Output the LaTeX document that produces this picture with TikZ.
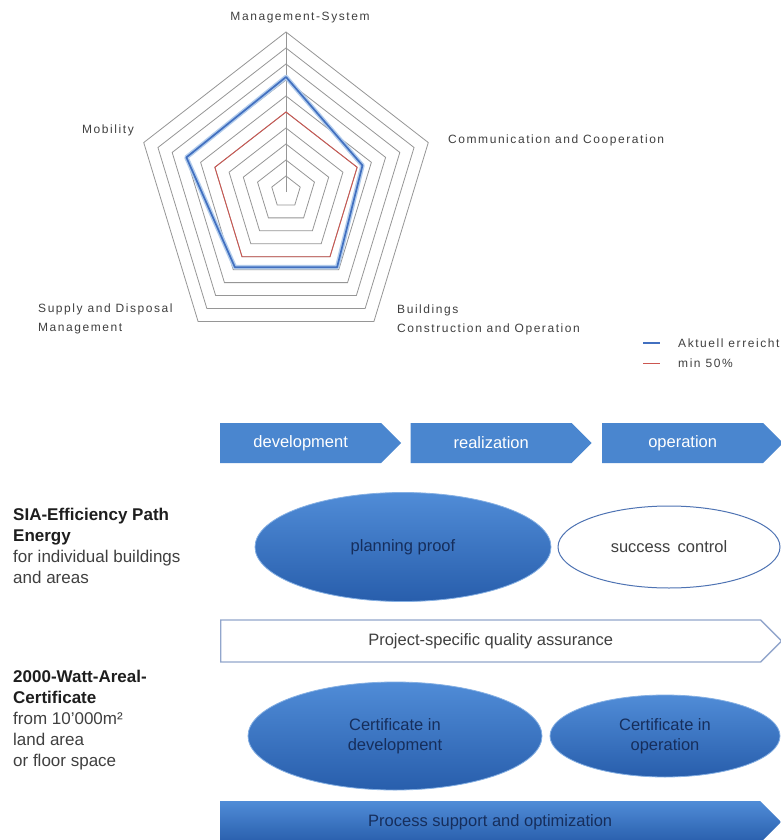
\documentclass[tikz,border=0pt]{standalone}
\usepackage{fontspec}
\setmainfont{Liberation Sans}
\newfontfamily\chartfont[LetterSpace=13]{Liberation Sans}
\usetikzlibrary{positioning,shapes.symbols,shapes.geometric}
\definecolor{phaseblue}{RGB}{74,134,207}
\definecolor{ovaltop}{RGB}{80,140,215}
\definecolor{ovalbottom}{RGB}{40,94,172}
\definecolor{ovaltext}{RGB}{22,46,92}
\definecolor{framegray}{RGB}{146,166,204}
\definecolor{gridgray}{RGB}{150,150,150}
\definecolor{actualblue}{RGB}{66,112,192}
\definecolor{actualglow}{RGB}{178,204,236}
\definecolor{minred}{RGB}{204,86,80}
\definecolor{textgray}{RGB}{64,64,64}
\definecolor{headblack}{RGB}{30,30,30}
\tikzset{
chartlabel/.style={font=\chartfont\fontsize{12}{18.5}\selectfont, text=textgray, inner sep=0pt, align=left},
gridline/.style={draw=gridgray, line width=0.8pt},
minline/.style={draw=minred, line width=0.9pt},
actualline/.style={draw=actualblue, line width=1.7pt, line join=round},
glowline/.style={draw=actualglow, line width=4.5pt, line join=round},
phase/.style={shape=signal, signal to=east, signal from=nowhere, signal pointer angle=90,
  fill=phaseblue, text=white, minimum width=181pt, minimum height=40pt, inner sep=0pt,
  font=\fontsize{16.5}{20}\selectfont},
proof/.style={ellipse, top color=ovaltop, bottom color=ovalbottom, draw=ovaltop!70!white,
  line width=0.8pt, text=ovaltext, inner sep=0pt, align=center,
  font=\fontsize{16.5}{20.5}\selectfont},
control/.style={ellipse, fill=white, draw=actualblue!80!gray, line width=1pt, text=textgray,
  inner sep=0pt, font=\fontsize{16.5}{20}\selectfont},
track/.style={shape=signal, signal to=east, signal from=nowhere, signal pointer angle=90,
  minimum width=561pt, minimum height=42pt, inner sep=0pt, font=\fontsize{16.5}{20}\selectfont},
sidetext/.style={anchor=north west, inner sep=0pt, align=left, text=textgray,
  font=\fontsize{17}{21}\selectfont}
}
\begin{document}
\begin{tikzpicture}[x=1pt, y=-1pt]
  \useasboundingbox[fill=white] (0,0) rectangle (781,840);
  \clip (0,0) rectangle (781,840);

  \begin{scope}[shift={(286,192)}, xscale=0.935, yscale=-1]
    \foreach \r in {16,32,...,160}
      \draw[gridline] (90:\r) -- (18:\r) -- (-54:\r) -- (234:\r) -- (162:\r) -- cycle;
    \draw[gridline] (0,0) -- (90:160);
    \draw[glowline] (90:115) -- (18:86) -- (-54:93) -- (234:93) -- (162:112) -- cycle;
    \draw[minline] (90:80) -- (18:80) -- (-54:80) -- (234:80) -- (162:80) -- cycle;
    \draw[actualline] (90:115) -- (18:86) -- (-54:93) -- (234:93) -- (162:112) -- cycle;
  \end{scope}

  \node[chartlabel] (mgmt) at (300,18) {Management-System};
  \node[chartlabel] (mob) at (108,130) {Mobility};
  \node[chartlabel, anchor=west] (comm) at (448,140) {Communication and Cooperation};
  \node[chartlabel, anchor=north west] (bldg) at (397,305) {Buildings\\Construction and Operation};
  \node[chartlabel, anchor=north west] (supply) at (38,304) {Supply and Disposal\\Management};
  \node[chartlabel, anchor=west] (akt) at (678,343) {Aktuell erreicht};
  \node[chartlabel, anchor=west] (half) at (678,363) {min 50\%};
  \draw[draw=actualblue, line width=1.4pt] ([xshift=-35pt]akt.west) -- ([xshift=-18pt]akt.west);
  \draw[minline] ([xshift=-35pt]half.west) -- ([xshift=-18pt]half.west);

  \node[phase, anchor=west] (dev) at (220,443) {development};
  \node[phase, right=9pt of dev] (real) {realization};
  \node[phase, right=10pt of real] (oper) {operation};

  \node[sidetext] (sia) at (13,508) {\textcolor{headblack}{\bfseries SIA-Efficiency Path}\\
    \textcolor{headblack}{\bfseries Energy}\\for individual buildings\\and areas};
  \node[proof, minimum width=296pt, minimum height=109pt] (plan) at (403,547) {planning proof};
  \node[control, minimum width=222pt, minimum height=82pt] (success) at (669,547) {success\, control};

  \node[track, anchor=west, fill=white, draw=framegray, line width=1.4pt, text=textgray]
    (qa) at (220,641) {Project-specific quality assurance};

  \node[sidetext] (watt) at (13,670) {\textcolor{headblack}{\bfseries 2000-Watt-Areal-}\\
    \textcolor{headblack}{\bfseries Certificate}\\from 10'000m²\\land area\\or floor space};
  \node[proof, minimum width=294pt, minimum height=108pt] (certdev) at (395,736) {Certificate in\\development};
  \node[proof, minimum width=230pt, minimum height=82pt] (certop) at (665,736) {Certificate in\\operation};

  \node[track, anchor=west, top color=ovaltop, bottom color=ovalbottom, text=ovaltext]
    (support) at (220,822) {Process support and optimization};
\end{tikzpicture}
\end{document}
